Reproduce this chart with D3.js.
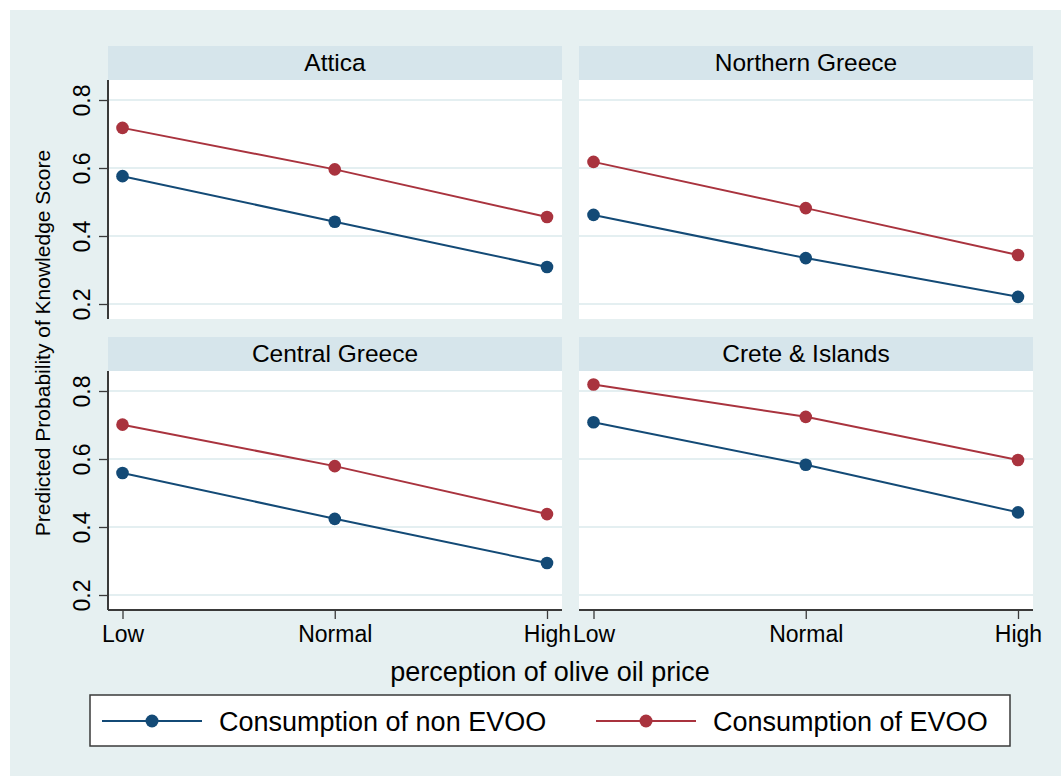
<!DOCTYPE html>
<html>
<head>
<meta charset="utf-8">
<script src="https://cdn.jsdelivr.net/npm/d3@7"></script>
<style>
  body { margin: 0; background: #fff; }
  text { font-family: "Liberation Sans", Arial, Helvetica, sans-serif; fill: #000; }
</style>
</head>
<body>
<svg id="chart" width="1061" height="776"></svg>
<script>
// data
const regions = ['Attica', 'Northern Greece', 'Central Greece', 'Crete & Islands'];
const priceLevels = ['Low', 'Normal', 'High'];
const yTicks = [0.2, 0.4, 0.6, 0.8];
const nonEvoo = [
  [0.576, 0.442, 0.309],
  [0.462, 0.335, 0.221],
  [0.559, 0.424, 0.294],
  [0.708, 0.583, 0.443]
];
const evoo = [
  [0.718, 0.596, 0.456],
  [0.618, 0.482, 0.344],
  [0.701, 0.579, 0.438],
  [0.819, 0.724, 0.597]
];
const seriesNames = ['Consumption of non EVOO', 'Consumption of EVOO'];
const seriesColors = ['#134a76', '#a9333e'];

const svg = d3.select('#chart');
const bg = '#e6f0f1', strip = '#d6e5eb', grid = '#e4eff1', axisCol = '#3a3a3a';

svg.append('rect').attr('x', 10).attr('y', 10).attr('width', 1051).attr('height', 766).attr('fill', bg);

// panel geometry
const colX = [108, 579], pw = 454;
const rowY = [80, 371], ph = 239, stripH = 34;

const panels = regions.map((name, i) => ({
  name, i,
  left: colX[i % 2], top: rowY[i / 2 | 0],
  col: i % 2, row: i / 2 | 0,
  series: [nonEvoo[i], evoo[i]]
}));

const line = d3.line();

panels.forEach(p => {
  const g = svg.append('g');
  const x = d3.scalePoint().domain(priceLevels).range([p.left + 14.5, p.left + pw - 15]);
  const y = d3.scaleLinear().domain([0.2, 0.8]).range([p.top + ph - 15, p.top + 20]);

  // strip
  g.append('rect').attr('x', p.left).attr('y', p.top - stripH)
   .attr('width', pw).attr('height', stripH).attr('fill', strip);
  g.append('text').attr('x', p.left + pw / 2).attr('y', p.top - 9)
   .attr('text-anchor', 'middle').attr('font-size', 24.5).text(p.name);

  // plot area
  g.append('rect').attr('x', p.left).attr('y', p.top)
   .attr('width', pw).attr('height', ph).attr('fill', '#fff');
  g.selectAll('.grid').data(yTicks).enter().append('line')
   .attr('x1', p.left).attr('x2', p.left + pw)
   .attr('y1', d => y(d)).attr('y2', d => y(d))
   .attr('stroke', grid).attr('stroke-width', 2);

  // y axis on left column
  if (p.col === 0) {
    const ya = g.append('g').attr('transform', `translate(${p.left},0)`)
      .call(d3.axisLeft(y).tickValues(yTicks).tickSize(9).tickPadding(0).tickFormat(d3.format('.1f')));
    ya.select('.domain').attr('d', `M0,${p.top}V${p.top + ph}`).attr('stroke', axisCol).attr('stroke-width', 2);
    ya.selectAll('.tick line').attr('stroke', axisCol).attr('stroke-width', 1.3);
    ya.selectAll('.tick text')
      .attr('x', null).attr('dy', null)
      .attr('transform', 'translate(-18,0) rotate(-90)')
      .attr('text-anchor', 'middle').attr('font-size', 23)
      .attr('font-family', '"Liberation Sans", Arial, sans-serif').attr('fill', '#000');
  }

  // x axis on bottom row
  if (p.row === 1) {
    const xa = g.append('g').attr('transform', `translate(0,${p.top + ph})`)
      .call(d3.axisBottom(x).tickSize(9).tickPadding(9));
    xa.select('.domain').attr('d', `M${p.left},0H${p.left + pw}`).attr('stroke', axisCol).attr('stroke-width', 2);
    xa.selectAll('.tick line').attr('stroke', axisCol).attr('stroke-width', 1.3);
    xa.selectAll('.tick text').attr('font-size', 23).attr('dy', '0.62em')
      .attr('font-family', '"Liberation Sans", Arial, sans-serif').attr('fill', '#000');
  }

  // series
  p.series.forEach((vals, s) => {
    const pts = vals.map((v, k) => [x(priceLevels[k]), y(v)]);
    g.append('path').attr('d', line(pts)).attr('fill', 'none')
     .attr('stroke', seriesColors[s]).attr('stroke-width', 2);
    g.selectAll(null).data(pts).enter().append('circle')
     .attr('cx', d => d[0]).attr('cy', d => d[1]).attr('r', 6.3)
     .attr('fill', seriesColors[s]);
  });
});

// axis titles
svg.append('text').attr('transform', 'translate(50,343) rotate(-90)')
   .attr('text-anchor', 'middle').attr('font-size', 21)
   .text('Predicted Probability of Knowledge Score');
svg.append('text').attr('x', 550).attr('y', 681)
   .attr('text-anchor', 'middle').attr('font-size', 27)
   .text('perception of olive oil price');

// legend
const lg = svg.append('g');
lg.append('rect').attr('x', 90).attr('y', 695).attr('width', 920).attr('height', 51)
  .attr('fill', '#fff').attr('stroke', axisCol).attr('stroke-width', 1.5);
const legendX = [102, 596];
seriesNames.forEach((name, s) => {
  const lx = legendX[s];
  lg.append('line').attr('x1', lx).attr('x2', lx + 100).attr('y1', 721).attr('y2', 721)
    .attr('stroke', seriesColors[s]).attr('stroke-width', 2);
  lg.append('circle').attr('cx', lx + 50).attr('cy', 721).attr('r', 6.5).attr('fill', seriesColors[s]);
  lg.append('text').attr('x', lx + 117).attr('y', 731).attr('font-size', 27).text(name);
});
</script>
</body>
</html>
